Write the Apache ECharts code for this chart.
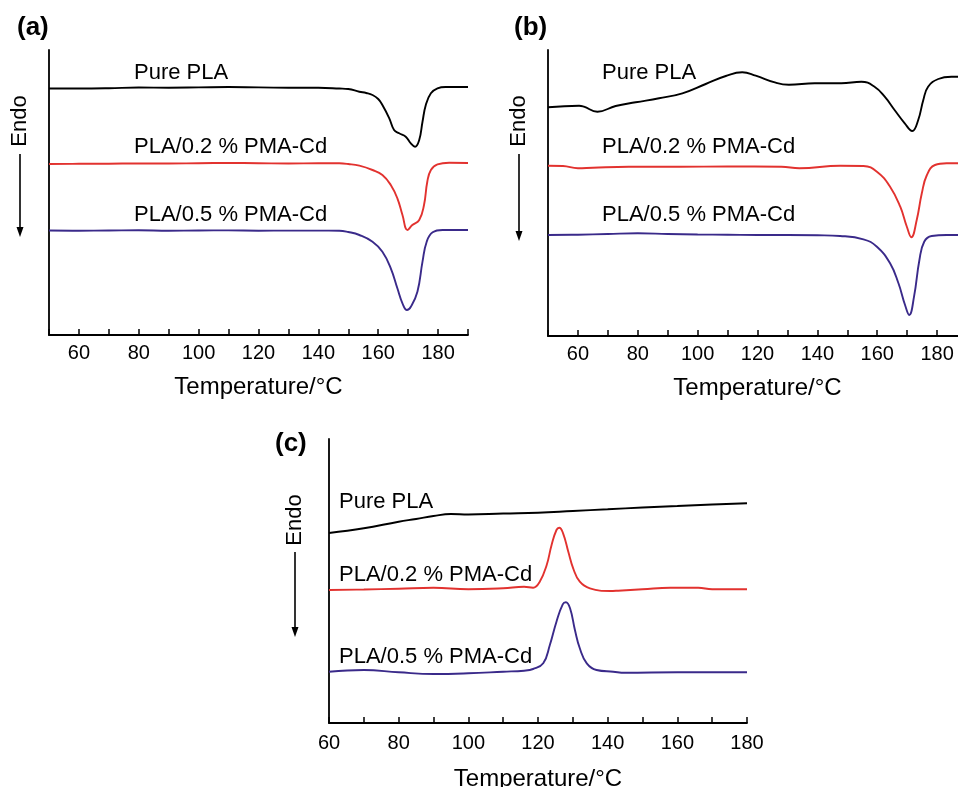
<!DOCTYPE html>
<html>
<head>
<meta charset="utf-8">
<title>DSC curves</title>
<script src="https://cdn.jsdelivr.net/npm/echarts@6/dist/echarts.min.js"></script>
<style>
  html, body { margin: 0; padding: 0; background: #fff; }
  #chart { width: 958px; height: 787px; }
</style>
</head>
<body>
<div id="chart"></div>
<script>
// curve data: [temperature /°C, heat flow (a.u., offset per curve)]
var aPure = [[50,246.5],[60,246.5],[70,246.8],[80,247.5],[90,247.3],[100,247.6],[110,248],[120,247.6],[130,247.3],[140,247.2],[147,246.5],[150,246],[153.7,243.3],[156,242],[158.1,240],[160,236],[161.4,230],[163.7,216.7],[165.3,205],[167,201.7],[169.2,198.3],[170.9,191.7],[172.3,188.3],[173.7,195],[174.8,213.3],[175.9,230],[177.6,241.7],[179.8,246.7],[182.5,248],[186,248],[190,248]];
var aCd02 = [[50,171],[60,171.2],[70,171.3],[80,171.6],[90,171.5],[100,171.8],[110,172],[120,171.8],[130,171.5],[140,171.8],[147,171.7],[150,171],[153.7,169.3],[158.1,165],[161.4,160],[164.2,150],[166.4,136.7],[168.1,120],[169.8,105],[171.4,110],[173.7,115],[175.3,130],[176.4,153.3],[177.6,165],[179.8,170.7],[183.7,172.3],[190,172]];
var aCd05 = [[50,104.5],[60,104.3],[70,104.5],[80,104.8],[90,104.3],[100,104.5],[110,104.6],[120,104.3],[130,104.4],[140,104.4],[147,104.3],[150,103],[153.7,100],[158.1,93.3],[161.4,83.3],[164.2,66.7],[166.4,46.7],[168.1,31.7],[169.6,25],[170.9,28.3],[173.1,43.3],[174.8,73.3],[176.2,93.3],[178.2,102.7],[181.5,105],[190,105]];

var bPure = [[50,228.7],[60.4,230.3],[62,229.3],[66.5,224.3],[72.6,230],[79.3,233.7],[87.1,237.7],[94.9,242.7],[102.7,252],[109.4,260],[114.9,263.7],[119.4,260.3],[126.1,253.3],[130.5,251.3],[139.1,252.7],[148,252.7],[154.7,254.3],[159.1,249.3],[162.5,239.3],[165.8,226],[169.2,212.7],[171.7,205],[173.7,216],[175.4,236],[177,249.3],[180.4,257],[184.8,259.3],[190,259.3]];
var bCd02 = [[50,170.3],[55,170],[60,167.7],[65,168.3],[77,169.3],[94,169.3],[110,169.5],[128,169.3],[134,167.7],[147.6,170.3],[155.4,170],[159.9,164.3],[164.3,149.3],[167.7,129.3],[169.9,109.3],[171.4,98.7],[173.2,116],[174.9,142.7],[176.6,161],[179.3,171],[183.2,172.7],[190,172.7]];
var bCd05 = [[50,101],[60,101.3],[70,102],[80,102.7],[90,102],[100,101.5],[110,101.3],[120,101],[130,101],[140,100.7],[147.6,100],[155.4,96.7],[159.9,89.3],[164.3,72.7],[167.1,52.7],[169.3,31],[170.7,21],[172.3,39.3],[174.1,76],[175.7,94.3],[178.2,100],[183.2,101],[190,101]];

var cPure = [[60,190],[70,194.7],[80,201.3],[85,204],[90,207],[95,209],[100,208.5],[110,209.5],[120,210.3],[130,212],[140,213.7],[150,215.5],[160,217],[170,218.5],[180,219.7]];
var cCd02 = [[60,133],[70,133.5],[80,134.3],[90,135.3],[100,133.7],[110,134.7],[116,136.3],[118.6,135.3],[120.5,141.3],[122.5,158],[123.9,178],[125.3,193],[126.1,195.3],[127.2,189.7],[128.7,171.3],[130.1,154.7],[132,141.3],[134.9,134.7],[140.7,132],[143,132.3],[150,133.7],[158,135.3],[166,135.3],[170,133.7],[180,133.7]];
var cCd05 = [[60,51.3],[70,53],[80,50.7],[90,49],[100,49.7],[110,51.3],[116,52.3],[118.6,54],[121.5,59.7],[123.4,78],[125.3,101.3],[127.1,118.7],[128,120.7],[129.2,114.7],[130.6,93],[132,74.7],[134,59.7],[136.8,53],[141.6,51.3],[145,50.3],[160,50.7],[180,50.7]];

var seriesNames = ['Pure PLA', 'PLA/0.2 % PMA-Cd', 'PLA/0.5 % PMA-Cd'];
var panelLetters = ['(a)', '(b)', '(c)'];
var xRanges = [[50, 190], [50, 190], [60, 180]];
var yTops = [285, 286, 284];

var FONT = 'Liberation Sans, Arial, Helvetica, sans-serif';
var COLORS = ['#000000', '#e2322f', '#3a2a8a'];

var chart = echarts.init(document.getElementById('chart'), null, { renderer: 'canvas' });

var grids = [
    { left: 49, top: 50, width: 419, height: 285, outerBoundsMode: 'none', containLabel: false },
    { left: 548, top: 50, width: 419, height: 286, outerBoundsMode: 'none', containLabel: false },
    { left: 329, top: 439, width: 418, height: 284, outerBoundsMode: 'none', containLabel: false }
];

function xAxisFor(i, nameGap, labelMargin){
    return {
        type: 'value', gridIndex: i,
        min: xRanges[i][0], max: xRanges[i][1], interval: 10,
        name: 'Temperature/°C', nameLocation: 'middle', nameGap: nameGap,
        nameTextStyle: { fontFamily: FONT, fontSize: 24, color: '#000' },
        axisLine: { onZero: false, lineStyle: { color: '#000', width: 1.8 } },
        axisTick: { inside: true, length: 6, lineStyle: { color: '#000', width: 1.5 } },
        axisLabel: {
            fontFamily: FONT, fontSize: 20, color: '#000', margin: labelMargin,
            showMinLabel: true, showMaxLabel: true,
            formatter: function(v){ return v % 20 === 0 ? String(v) : ''; }
        },
        splitLine: { show: false }
    };
}

function yAxisFor(i){
    return {
        type: 'value', gridIndex: i, min: 0, max: yTops[i],
        axisLine: { show: true, lineStyle: { color: '#000', width: 1.8 } },
        axisTick: { show: false }, axisLabel: { show: false }, splitLine: { show: false }
    };
}

function line(i, k, data){
    return {
        type: 'line', name: seriesNames[k], xAxisIndex: i, yAxisIndex: i,
        data: data, showSymbol: false, smooth: 0.45,
        lineStyle: { color: COLORS[k], width: 1.9 }, silent: true
    };
}

function text(x, y, str, size, bold, align){
    return {
        type: 'text', x: x, y: y,
        style: { text: str, fill: '#000', font: (bold ? 'bold ' : '') + size + 'px ' + FONT,
                 textAlign: align || 'left', textVerticalAlign: 'middle' }
    };
}

function endoArrow(cx, textY, lineTop, tip){
    return [
        { type: 'text', x: cx, y: textY, rotation: Math.PI / 2,
          style: { text: 'Endo', fill: '#000', font: '22px ' + FONT, textAlign: 'center', textVerticalAlign: 'middle' } },
        { type: 'line', shape: { x1: cx, y1: lineTop, x2: cx, y2: tip - 8 }, style: { stroke: '#000', lineWidth: 1.6 } },
        { type: 'polygon', shape: { points: [[cx - 3.5, tip - 10], [cx + 3.5, tip - 10], [cx, tip]] }, style: { fill: '#000' } }
    ];
}

var labelPos = [
    { x: 134, y: [73, 147, 215] },
    { x: 602, y: [73, 147, 215] },
    { x: 339, y: [502, 575, 657] }
];

var graphics = [
    text(17, 28, panelLetters[0], 26, true),
    text(514, 28, panelLetters[1], 26, true),
    text(275, 444, panelLetters[2], 26, true)
];
graphics = graphics.concat(endoArrow(20, 121, 154, 237), endoArrow(519, 121, 154, 241), endoArrow(295, 520, 552, 637));
labelPos.forEach(function(p){
    for (var k = 0; k < 3; k++) graphics.push(text(p.x, p.y[k], seriesNames[k], 22, false));
});

chart.setOption({
    backgroundColor: '#fff',
    animation: false,
    grid: grids,
    xAxis: [xAxisFor(0, 40, 8), xAxisFor(1, 40, 8), xAxisFor(2, 44, 10)],
    yAxis: [yAxisFor(0), yAxisFor(1), yAxisFor(2)],
    series: [
        line(0, 0, aPure), line(0, 1, aCd02), line(0, 2, aCd05),
        line(1, 0, bPure), line(1, 1, bCd02), line(1, 2, bCd05),
        line(2, 0, cPure), line(2, 1, cCd02), line(2, 2, cCd05)
    ],
    graphic: graphics
});
</script>
</body>
</html>
